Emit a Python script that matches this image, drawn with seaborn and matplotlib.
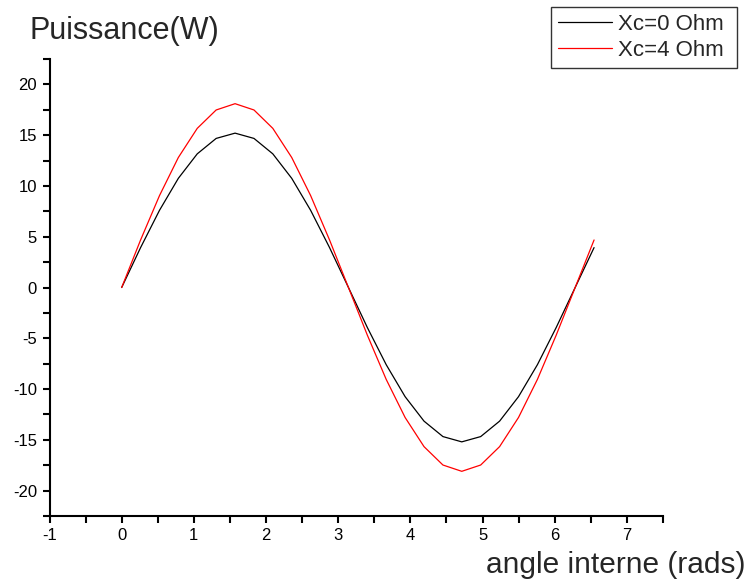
# Puissance vs angle interne, two reactance cases

import matplotlib
matplotlib.use('Agg')
import matplotlib.pyplot as plt
from matplotlib.ticker import MultipleLocator
from matplotlib.lines import Line2D
import seaborn as sns
import pandas as pd

# Data
angle = [0.000, 0.262, 0.524, 0.785, 1.047, 1.309, 1.571, 1.833, 2.094, 2.356,
         2.618, 2.880, 3.142, 3.403, 3.665, 3.927, 4.189, 4.451, 4.712, 4.974,
         5.236, 5.498, 5.760, 6.021, 6.283, 6.545]
p_xc0 = [0.0, 3.93, 7.60, 10.75, 13.16, 14.68, 15.20, 14.68, 13.16, 10.75,
         7.60, 3.93, 0.0, -3.93, -7.60, -10.75, -13.16, -14.68, -15.20, -14.68,
         -13.16, -10.75, -7.60, -3.93, 0.0, 3.93]
p_xc4 = [0.0, 4.68, 9.05, 12.80, 15.67, 17.48, 18.10, 17.48, 15.67, 12.80,
         9.05, 4.68, 0.0, -4.68, -9.05, -12.80, -15.67, -17.48, -18.10, -17.48,
         -15.67, -12.80, -9.05, -4.68, 0.0, 4.68]
series_names = ["Xc=0 Ohm", "Xc=4 Ohm"]
series_colors = ["black", "red"]

df = pd.DataFrame({
    "angle": angle * 2,
    "P": p_xc0 + p_xc4,
    "serie": [series_names[0]] * len(angle) + [series_names[1]] * len(angle),
})

sns.set_style("ticks")
plt.rcParams['font.family'] = ['Liberation Sans', 'DejaVu Sans']
plt.rcParams['axes.unicode_minus'] = False

fig = plt.figure(figsize=(7.51, 5.82), dpi=100)
ax = fig.add_axes([49.5 / 751, 1 - 516 / 582, (663 - 49.5) / 751, (516 - 59) / 582])

sns.lineplot(data=df, x="angle", y="P", hue="serie",
             palette=dict(zip(series_names, series_colors)),
             linewidth=0.9, ax=ax, legend=False)

ax.set_xlim(-1, 7.5)
ax.set_ylim(-22.5, 22.5)
ax.xaxis.set_major_locator(MultipleLocator(1))
ax.xaxis.set_minor_locator(MultipleLocator(0.5))
ax.yaxis.set_major_locator(MultipleLocator(5))
ax.yaxis.set_minor_locator(MultipleLocator(2.5))
ax.tick_params(which='both', direction='out', length=5, width=1.5,
               labelsize=12, colors='black', pad=4)

ax.spines['top'].set_visible(False)
ax.spines['right'].set_visible(False)
for s in ['left', 'bottom']:
    ax.spines[s].set_linewidth(1.5)
    ax.spines[s].set_color('black')

ax.set_xlabel("")
ax.set_ylabel("")

# labels placed like the original (outside the axes)
fig.text(30 / 751, 1 - 31 / 582, "Puissance(W)", fontsize=22, ha='left', va='center')
fig.text(746 / 751, 1 - 565 / 582, "angle interne (rads)", fontsize=21.5, ha='right', va='center')

# legend (trailing space gives the wider right margin of the original box)
handles = [Line2D([], [], color=c, lw=0.9) for c in series_colors]
leg = fig.legend(handles, [n + " " for n in series_names], loc='upper right',
                 bbox_to_anchor=(737 / 751, 1 - 7 / 582),
                 fontsize=16, frameon=True, fancybox=False,
                 handlelength=2.45, handletextpad=0.27,
                 borderpad=0.3, labelspacing=0.24, borderaxespad=0)
leg.get_frame().set_edgecolor('black')
leg.get_frame().set_linewidth(1)

plt.savefig("out.png", dpi=100)
plt.close("all")
